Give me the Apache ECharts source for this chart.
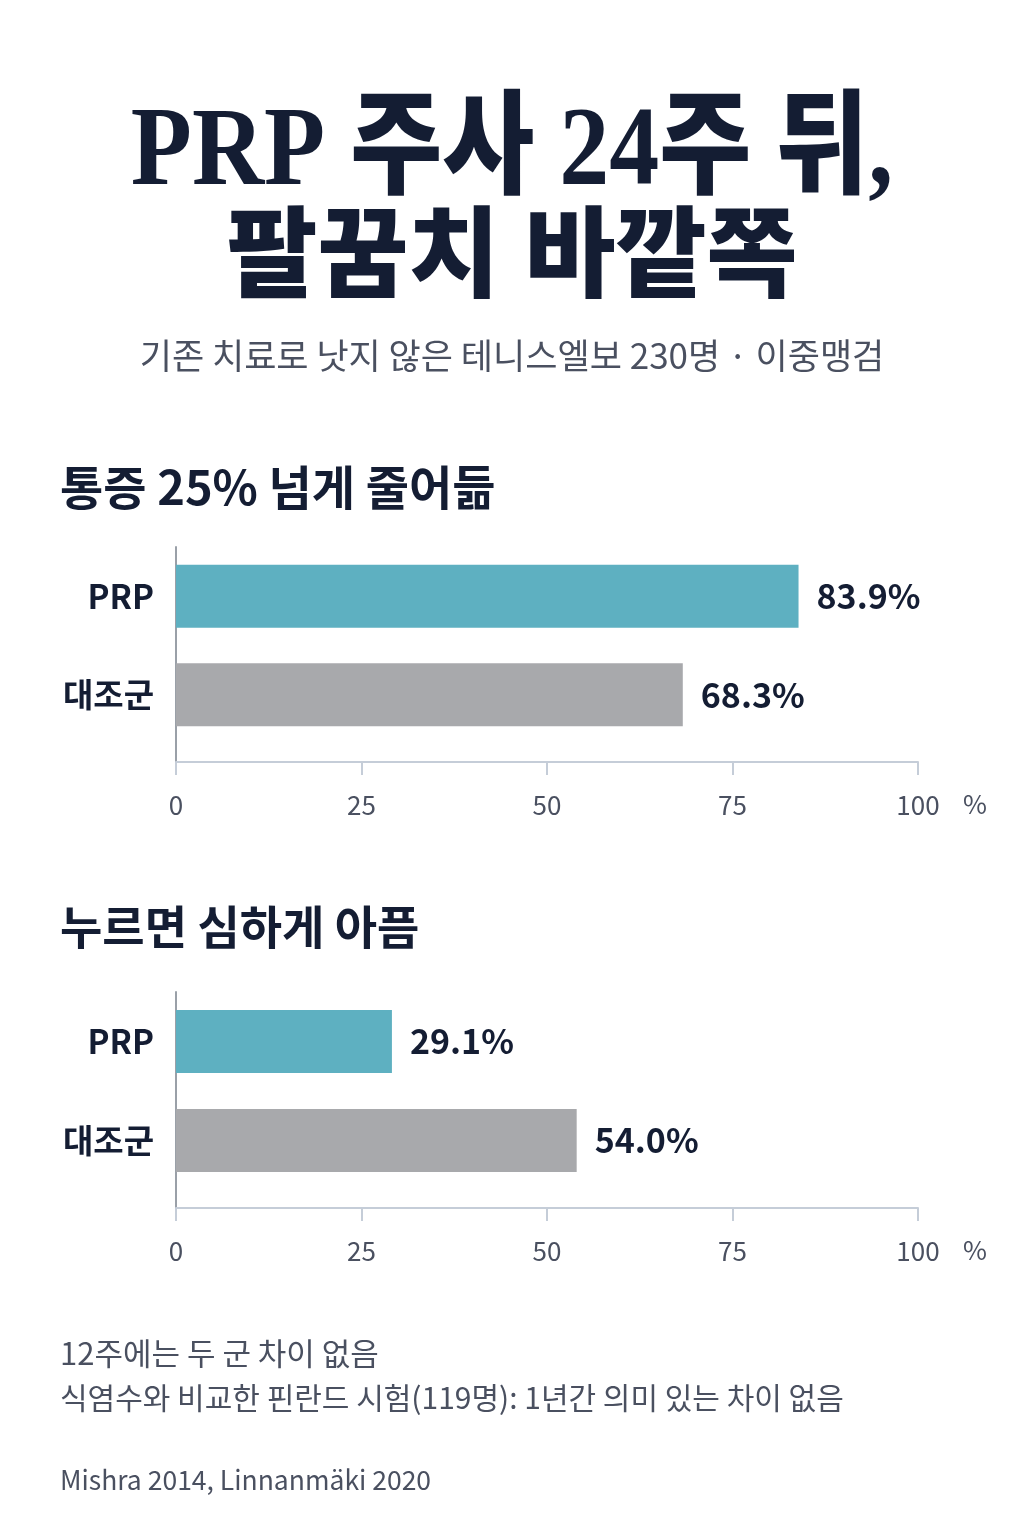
<!DOCTYPE html>
<html>
<head>
<meta charset="utf-8">
<style>
  html, body { margin:0; padding:0; background:#ffffff; }
  #chart { width:1024px; height:1536px; }
</style>
<script src="https://cdn.jsdelivr.net/npm/echarts@6/dist/echarts.min.js"></script>
</head>
<body>
<div id="chart"></div>
<script>
const categories = ['PRP', '대조군'];
const painReduced = [83.9, 68.3];
const severeTenderness = [29.1, 54.0];
const xTicks = [0, 25, 50, 75, 100];
const barColors = ['#5eb0c1', '#a8a9ac'];

const titleLine1 = 'PRP 주사 24주 뒤,';
const titleLine2 = '팔꿈치 바깥쪽';
const subtitle = '기존 치료로 낫지 않은 테니스엘보 230명 · 이중맹검';
const section1 = '통증 25% 넘게 줄어듦';
const section2 = '누르면 심하게 아픔';
const note1 = '12주에는 두 군 차이 없음';
const note2 = '식염수와 비교한 핀란드 시험(119명): 1년간 의미 있는 차이 없음';
const source = 'Mishra 2014, Linnanmäki 2020';

const navy = '#141d33';
const grayText = '#4a5060';
const sansFont = '"Noto Sans CJK KR", "Noto Sans", sans-serif';
const serifFont = '"Liberation Serif", "DejaVu Serif", "Noto Sans CJK KR", serif';

function makeX(idx) {
  return {
    type: 'value', gridIndex: idx, min: 0, max: 100, interval: 25, offset: 18,
    name: '%', nameLocation: 'end', nameGap: 45,
    nameTextStyle: { color: grayText, fontSize: 26, fontFamily: sansFont, verticalAlign: 'top', padding: [29, 0, 0, 0] },
    axisLine: { show: true, lineStyle: { color: '#c5cdd8', width: 2 } },
    axisTick: { show: true, length: 13, lineStyle: { color: '#c5cdd8', width: 2 } },
    splitLine: { show: false },
    axisLabel: { color: grayText, fontSize: 26, fontFamily: sansFont, margin: 30,
      formatter: v => xTicks.includes(v) ? String(v) : '' }
  };
}
function makeY(idx) {
  return {
    type: 'category', gridIndex: idx, data: categories, inverse: true,
    axisLine: { show: true, lineStyle: { color: '#9aa0a8', width: 2 } },
    axisTick: { show: false },
    axisLabel: { color: navy, fontSize: 33, fontWeight: 700, fontFamily: sansFont, margin: 22 }
  };
}
function makeSeries(idx, values) {
  return {
    type: 'bar', xAxisIndex: idx, yAxisIndex: idx, barWidth: 63,
    data: values.map((v, i) => ({ value: v, itemStyle: { color: barColors[i] } })),
    label: { show: true, position: 'right', distance: 18, color: navy, fontSize: 34, fontWeight: 700,
      fontFamily: sansFont, formatter: p => p.value.toFixed(1) + '%' },
    silent: true
  };
}

const grids = [
  { left: 176, width: 742, top: 547, height: 197 },
  { left: 176, width: 742, top: 992, height: 198 }
];

const chart = echarts.init(document.getElementById('chart'), null, { renderer: 'canvas' });
chart.setOption({
  backgroundColor: '#ffffff',
  animation: false,
  grid: grids,
  xAxis: [makeX(0), makeX(1)],
  yAxis: [makeY(0), makeY(1)],
  series: [makeSeries(0, painReduced), makeSeries(1, severeTenderness)],
  graphic: [
    // y-axis line continuation down to the tick ends
    ...grids.map(g => ({ type: 'line', silent: true,
      shape: { x1: g.left, y1: g.top + g.height, x2: g.left, y2: g.top + g.height + 31 },
      style: { stroke: '#9aa0a8', lineWidth: 2 } })),
    { type: 'text', x: 512, y: 98, scaleY: 1.13,
      style: { text: titleLine1, fill: navy, font: '900 100px ' + serifFont, textAlign: 'center', textVerticalAlign: 'top' } },
    { type: 'text', x: 512, y: 214,
      style: { text: titleLine2, fill: navy, font: '900 99px ' + serifFont, textAlign: 'center', textVerticalAlign: 'top' } },
    { type: 'text', x: 512, y: 338,
      style: { text: subtitle, fill: grayText, font: '400 35px ' + sansFont, textAlign: 'center', textVerticalAlign: 'top' } },
    { type: 'text', left: 60, top: 464, style: { text: section1, fill: navy, font: '700 47px ' + sansFont } },
    { type: 'text', left: 60, top: 904, style: { text: section2, fill: navy, font: '700 46px ' + sansFont } },
    { type: 'text', left: 60, top: 1338, style: { text: note1, fill: grayText, font: '400 31px ' + sansFont } },
    { type: 'text', left: 60, top: 1383, style: { text: note2, fill: grayText, font: '400 30px ' + sansFont } },
    { type: 'text', left: 60, top: 1467, style: { text: source, fill: grayText, font: '400 26.5px ' + sansFont } }
  ]
});
</script>
</body>
</html>
